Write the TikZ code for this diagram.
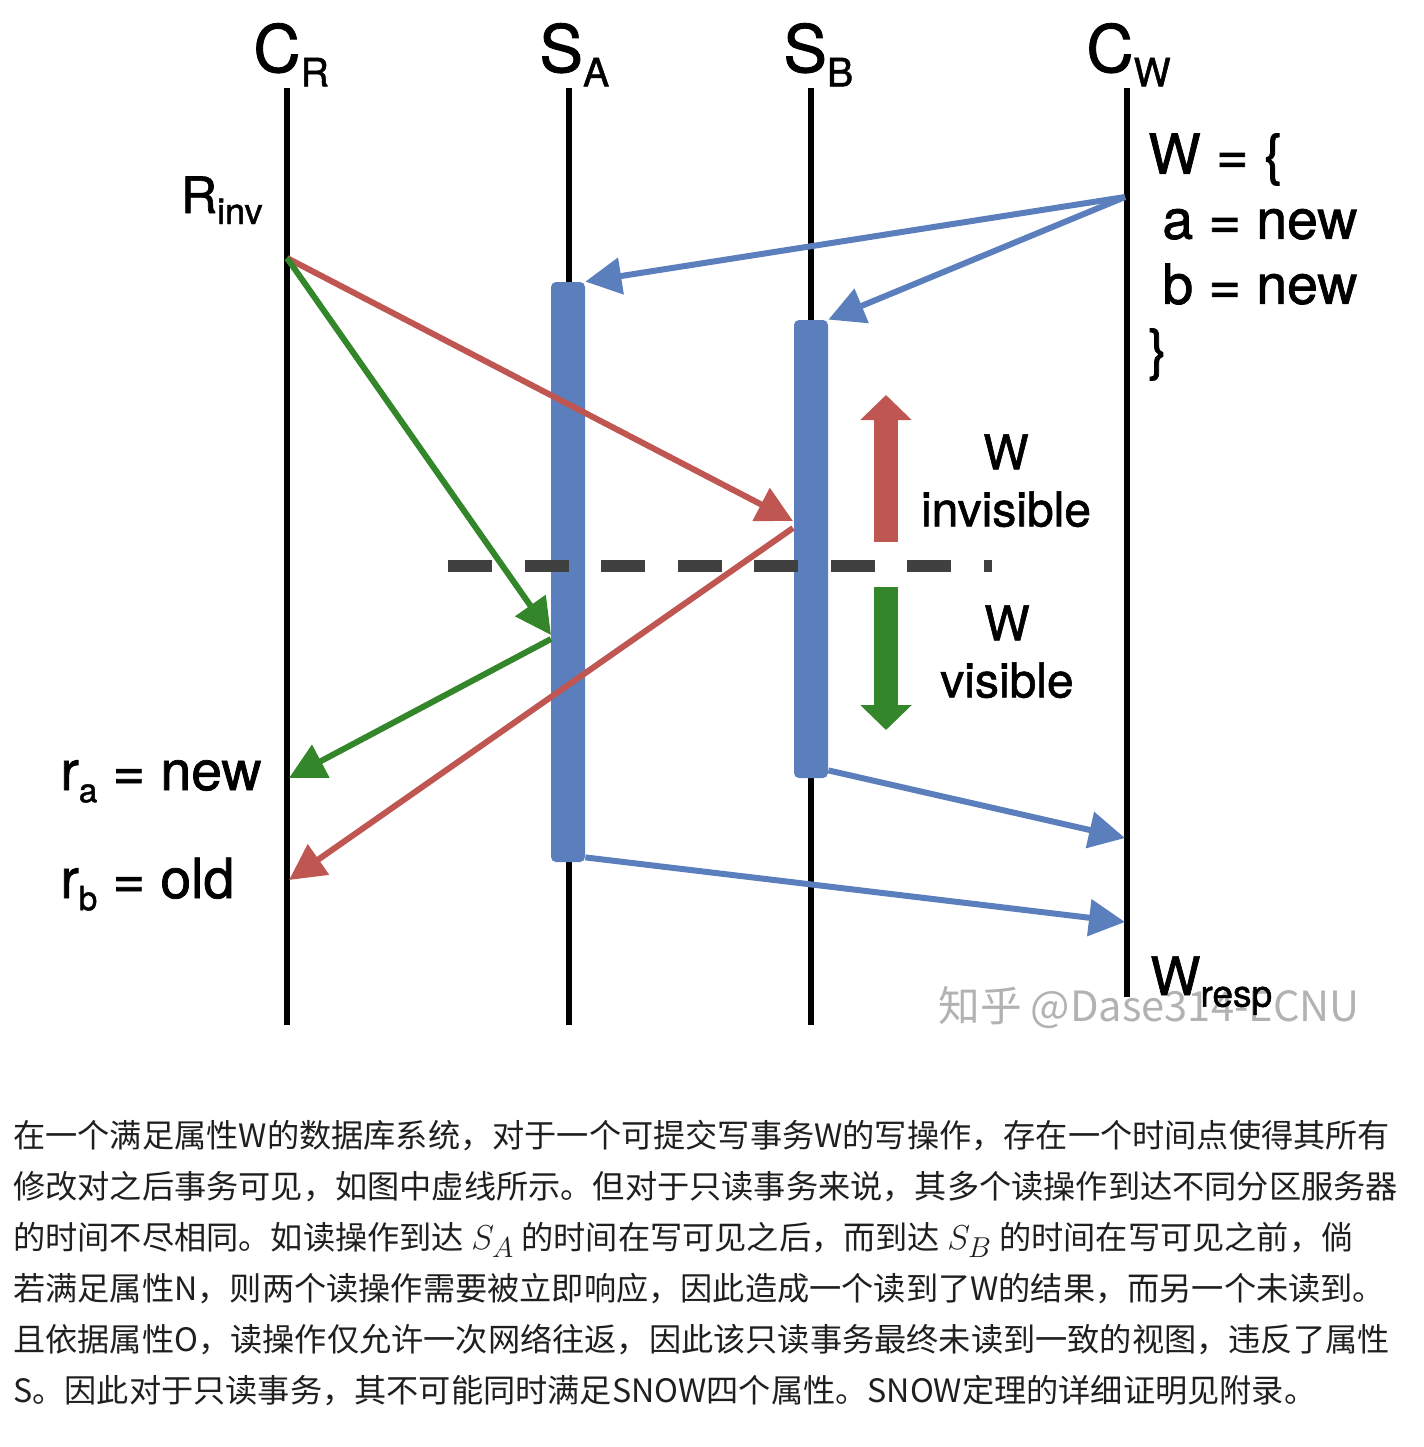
\documentclass[tikz,border=0pt]{standalone}
\usepackage{fontspec}
\setmainfont{TeX Gyre Heros}
\newfontface\diag{TeX Gyre Heros}[FakeBold=1.3]
\newfontfamily\cjk{Noto Sans CJK SC}
\usepackage{graphicx}
\usetikzlibrary{arrows.meta}
\definecolor{msgblue}{HTML}{5B7FBC}
\definecolor{msgred}{HTML}{BF5651}
\definecolor{msggreen}{HTML}{34862A}
\definecolor{cutgray}{HTML}{404040}
\newcommand{\lsub}[2][0.6]{\raisebox{-0.22em}{\scalebox{#1}{#2}}}

\begin{document}
\begin{tikzpicture}[x=0.5pt,y=-0.5pt,
  life/.style={line width=3pt},
  bar/.style={fill=msgblue,rounded corners=2.5pt,minimum width=17pt,inner sep=0pt},
  msg/.style={line width=3pt,-{Triangle[length=18pt,width=18pt]}},
  fat/.style={line width=12pt,-{Triangle[length=12.5pt,width=25pt]}},
  head/.style={inner sep=0pt,anchor=base west,font=\diag\fontsize{32.7}{36}\selectfont},
  lbl/.style={inner sep=0pt,font=\diag\fontsize{27.7}{32.5}\selectfont}]
  \useasboundingbox (0,0) rectangle (1424,1447);
  \node[inner sep=0pt,anchor=base west,text=black!30,
        font=\cjk\fontsize{20.8}{20.8}\selectfont] (mark) at (938,1021) {知乎 @Dase314-ECNU};

  % processes
  \node[head] (CR) at (253,72) {C\lsub{R}};
  \node[head] (SA) at (539,72) {S\lsub{A}};
  \node[head] (SB) at (783,72) {S\lsub{B}};
  \node[head] (CW) at (1086,72) {C\lsub{W}};
  \draw[life] (287,88) -- (287,1025);
  \draw[life] (569,88) -- (569,1025);
  \draw[life] (811,88) -- (811,1025);
  \draw[life] (1127,88) -- (1127,997);

  \node[bar,minimum height=290pt] (barA) at (568,572) {};
  \node[bar,minimum height=229pt] (barB) at (811,549) {};

  \coordinate (rinv) at (287,258);
  \coordinate (wsend) at (1125,197);
  \coordinate (hitA) at (551,635);
  \coordinate (hitB) at (793,521);
  \coordinate (retA) at (551,639);
  \coordinate (retB) at (793,528);
  \coordinate (gotA) at (289,778);
  \coordinate (gotB) at (289,880);
  \coordinate (ackB) at (1125,838);
  \coordinate (ackA) at (1125,922);

  % write W
  \draw[msg,msgblue] (wsend) -- (barA.north east);
  \draw[msg,msgblue] (wsend) -- (barB.north east);
  \draw[msg,msgblue] ([yshift=4pt]barB.south east) -- (ackB);
  \draw[msg,msgblue] ([yshift=2.5pt]barA.south east) -- (ackA);
  % read-only transaction
  \draw[msg,msgred] (rinv) -- (hitB);
  \draw[msg,msgred] (retB) -- (gotB);
  \draw[msg,msggreen] (rinv) -- (hitA);
  \draw[msg,msggreen] (retA) -- (gotA);

  \draw[cutgray,line width=6pt,dash pattern=on 22pt off 16.25pt] (448,566) -- (992,566);
  \draw[fat,msgred] (886,542) -- (886,395);
  \draw[fat,msggreen] (886,587) -- (886,730);

  \node[inner sep=0pt,anchor=base east,font=\diag\fontsize{25}{28}\selectfont] (rinvl) at (263,213)
    {R\lsub[0.72]{inv}};
  \node[lbl,anchor=north west,align=left] (wset) at (1148,133)
    {W = \{\\\hspace{7pt}a = new\\\hspace{7pt}b = new\\\}};
  \node[inner sep=0pt,anchor=north,align=center,font=\diag\fontsize{24}{28.5}\selectfont] (inv) at (1006,434)
    {W\\invisible};
  \node[inner sep=0pt,anchor=north,align=center,font=\diag\fontsize{24}{28.5}\selectfont] (vis) at (1007,605)
    {W\\visible};
  \node[lbl,anchor=base west] (ra) at (60,790) {r\lsub{a} = new};
  \node[lbl,anchor=base west] (rb) at (60,898) {r\lsub{b} = old};
  \node[inner sep=0pt,anchor=base west,font=\diag\fontsize{26.5}{30}\selectfont] (wresp) at (1150,995)
    {W\lsub[0.7]{resp}};

  \node[inner sep=0pt,anchor=north west,align=left,text=black!88,
        font=\cjk\fontsize{16.1}{25.5}\selectfont] (note) at (13,1120)
    {在一个满足属性W的数据库系统，对于一个可提交写事务W的写操作，存在一个时间点使得其所有\\
     修改对之后事务可见，如图中虚线所示。但对于只读事务来说，其多个读操作到达不同分区服务器\\
     的时间不尽相同。如读操作到达 {\fontsize{19}{19}\selectfont$S_A$} 的时间在写可见之后，而到达 {\fontsize{19}{19}\selectfont$S_B$} 的时间在写可见之前，倘\\
     若满足属性N，则两个读操作需要被立即响应，因此造成一个读到了W的结果，而另一个未读到。\\
     且依据属性O，读操作仅允许一次网络往返，因此该只读事务最终未读到一致的视图，违反了属性\\
     S。因此对于只读事务，其不可能同时满足SNOW四个属性。SNOW定理的详细证明见附录。};
\end{tikzpicture}
\end{document}
